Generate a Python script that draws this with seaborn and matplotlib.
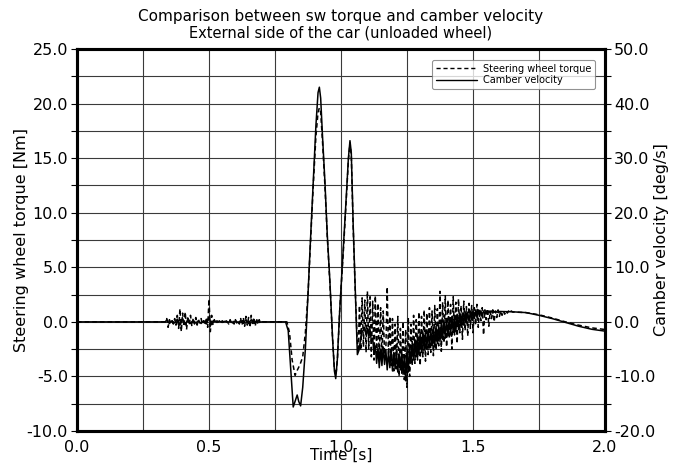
import numpy as np
import pandas as pd
import matplotlib
matplotlib.use("Agg")
import matplotlib.pyplot as plt
import seaborn as sns
from matplotlib.ticker import MultipleLocator, FormatStrFormatter
from matplotlib.lines import Line2D

# ---------------- data ----------------
# Steering wheel torque [Nm]
torque_quiet_t = [0.0, 0.335]
torque_quiet = [0.0, 0.0]

torque_noise1_start, torque_noise1_step = 0.34, 0.005
torque_noise1 = [0.3, -0.5, 0.2, -0.1, 0.1, -0.2, 0.3, -0.3, 0.6, -0.6,
                 1.2, -0.9, 0.8, -0.4, 0.9, -0.7, 0.5, -0.3, 0.6, -0.4,
                 0.3, -0.2, 0.4, -0.3, 0.2, -0.1, 0.3, -0.2, 0.1, -0.3,
                 0.4, -0.5, 2.1, -0.9, 0.6, -0.3, 0.2, -0.1, 0.1, 0.0,
                 0.1, -0.1, 0.1, 0.0, -0.1, 0.1, 0.0, -0.2, 0.2, -0.1,
                 0.1, -0.2, 0.2, -0.1, 0.1, -0.2, 0.3, -0.3, 0.4, -0.4,
                 0.5, -0.3, 0.4, -0.5, 0.6, -0.3, 0.4, -0.4, 0.3, -0.2,
                 0.2, -0.1, 0.0]

torque_man_t = [0.705, 0.795, 0.805, 0.815, 0.826, 0.835, 0.845, 0.855, 0.865,
                0.875, 0.883, 0.895, 0.905, 0.913, 0.918, 0.923, 0.930, 0.939,
                0.948, 0.958, 0.968, 0.975, 0.981, 0.987, 0.995, 1.009, 1.020,
                1.028, 1.034, 1.039, 1.046, 1.053, 1.060, 1.065]
torque_man = [0.0, 0.0, -1.0, -3.5, -4.9, -4.4, -3.9, -3.2, -1.0,
              2.5, 6.5, 12.5, 17.0, 19.2, 19.6, 19.2, 16.5, 12.5,
              7.8, 3.5, -1.5, -4.3, -4.9, -3.2, 1.0, 6.5, 11.2,
              14.8, 16.4, 15.2, 8.8, 3.5, -1.0, -2.8]

torque_noise2_start, torque_noise2_step = 1.07, 0.005
torque_noise2 = [1.5, -2.6, 2.2, -2.3, 2.0, -2.8, 2.8, -2.5, 2.3, -3.2,
                 1.9, -3.5, 2.4, -2.9, 1.7, -3.6, 1.3, -3.3, 1.0, -3.0,
                 -2.4, 3.2, -3.4, 0.5, -4.0, 0.3, -4.5, -0.2, -4.3, 0.5,
                 -5.0, -0.6, -4.7, 0.0, -5.3, -0.7, -6.0, 0.4, -5.0, -0.2,
                 -4.0, 0.6, -3.8, 0.2, -3.5, 0.9, -4.0, 0.5, -3.2, 1.1,
                 -3.6, 0.8, -3.0, 1.3, -2.8, 1.0, -3.1, 1.5, -2.6, 1.2,
                 -2.2, 2.8, -2.7, 1.8, -1.9, 2.4, -2.3, 2.0, -1.5, 1.6,
                 -2.5, 2.3, -1.2, 1.8, -2.0, 2.1, -1.0, 1.5, -1.6, 1.9,
                 -0.8, 1.4, -1.3, 1.7, -0.6, 1.5, -1.0, 1.3, -0.3, 1.6,
                 -0.5, 1.2, 0.1, 1.3, -1.2, 1.1, 0.2, 1.2, -0.4, 1.0,
                 0.3, 1.1, 0.0, 1.0, 0.4, 1.1, 0.5, 1.0, 0.6, 1.0,
                 0.7, 1.0, 0.8, 1.0, 0.85, 1.0, 0.9]

torque_tail_t = [1.70, 1.75, 1.80, 1.85, 1.90, 1.95, 2.00]
torque_tail = [0.85, 0.65, 0.35, 0.0, -0.3, -0.55, -0.7]

# Camber velocity [deg/s]
camber_quiet_t = [0.0, 0.335]
camber_quiet = [0.0, 0.0]

camber_noise1_start, camber_noise1_step = 0.34, 0.01
camber_noise1 = [0.4, -0.3, 0.2, -0.2, 0.5, -0.6, 0.6, -0.5, 0.4, -0.3,
                 0.3, -0.2, 0.2, -0.3, 0.2, -0.4, 0.8, -0.5, 0.2, -0.1,
                 0.1, -0.1, 0.1, -0.1, 0.1, -0.2, 0.2, -0.1, 0.2, -0.3,
                 0.4, -0.3, 0.4, -0.3, 0.2, -0.1, 0.0]

camber_man_t = [0.71, 0.79, 0.80, 0.81, 0.819, 0.827, 0.834, 0.840, 0.847,
                0.855, 0.865, 0.875, 0.883, 0.895, 0.905, 0.913, 0.918, 0.923,
                0.930, 0.939, 0.948, 0.958, 0.968, 0.975, 0.980, 0.986, 0.995,
                1.009, 1.020, 1.028, 1.034, 1.039, 1.046, 1.053, 1.058, 1.062,
                1.068, 1.078, 1.085]
camber_man = [0.0, 0.0, -1.6, -9.0, -15.6, -14.4, -13.4, -14.6, -15.4,
              -12.0, -5.0, 5.0, 13.6, 26.0, 36.0, 42.0, 43.0, 41.0,
              34.0, 25.8, 16.0, 7.4, -3.0, -9.0, -10.4, -7.0, 2.0,
              13.6, 23.0, 30.0, 33.2, 31.0, 18.0, 7.4, 0.0, -6.0,
              -5.2, -2.0, -1.4]

camber_noise2_start, camber_noise2_step = 1.09, 0.005
camber_noise2 = [-1.0, -2.4, -1.2, -2.6, -1.4, -3.6, -3.0, -5.6, -4.4, -7.6,
                 -4.8, -8.4, -5.0, -8.0, -4.6, -7.8, -5.2, -8.8, -5.4, -8.4,
                 -5.0, -9.0, -5.6, -8.6, -5.2, -9.2, -5.8, -8.8, -5.4, -9.6,
                 -6.0, -10.8, -5.2, -9.2, -4.4, -7.6, -3.6, -7.0, -3.2, -6.4,
                 -2.4, -6.0, -2.0, -5.6, -1.8, -5.2, -1.6, -5.0, -1.4, -4.8,
                 -1.2, -4.4, -1.0, -4.6, -0.8, -4.0, -0.6, -3.6, 0.0, -3.2,
                 0.4, -3.0, 0.6, -2.6, 0.8, -2.4, 1.0, -2.0, 1.2, -1.8,
                 1.4, -1.4, 1.6, -1.0, 1.6, -0.6, 1.8, -0.2, 1.8, 0.0,
                 2.0, 0.4, 2.0, 0.6, 2.2, 0.8, 2.2, 1.0, 2.0, 1.2,
                 2.0, 1.4, 2.0, 1.4, 2.0, 1.6, 2.0, 1.6, 1.9, 1.7,
                 1.9, 1.7, 1.9]

camber_tail_t = [1.65, 1.70, 1.75, 1.80, 1.85, 1.90, 1.95, 2.00]
camber_tail = [1.84, 1.7, 1.2, 0.6, -0.1, -0.8, -1.36, -1.7]

title_line1 = "Comparison between sw torque and camber velocity"
title_line2 = "External side of the car (unloaded wheel)"
x_label = "Time [s]"
y_left_label = "Steering wheel torque [Nm]"
y_right_label = "Camber velocity [deg/s]"
legend_labels = ["Steering wheel torque", "Camber velocity"]

# ---------------- assemble ----------------
def grid_t(start, step, vals):
    return start + step * np.arange(len(vals))

torque_t = np.concatenate([torque_quiet_t,
                           grid_t(torque_noise1_start, torque_noise1_step, torque_noise1),
                           torque_man_t,
                           grid_t(torque_noise2_start, torque_noise2_step, torque_noise2),
                           torque_tail_t])
torque_v = np.concatenate([torque_quiet, torque_noise1, torque_man, torque_noise2, torque_tail])

camber_t = np.concatenate([camber_quiet_t,
                           grid_t(camber_noise1_start, camber_noise1_step, camber_noise1),
                           camber_man_t,
                           grid_t(camber_noise2_start, camber_noise2_step, camber_noise2),
                           camber_tail_t])
camber_v = np.concatenate([camber_quiet, camber_noise1, camber_man, camber_noise2, camber_tail])

df_torque = pd.DataFrame({"t": torque_t, "v": torque_v})
df_camber = pd.DataFrame({"t": camber_t, "v": camber_v})

# ---------------- plot ----------------
sns.set_style("white")
plt.rcParams["font.family"] = ["DejaVu Sans"]
plt.rcParams["text.color"] = "black"
plt.rcParams["axes.labelcolor"] = "black"
plt.rcParams["xtick.color"] = "black"
plt.rcParams["ytick.color"] = "black"

W, H = 682, 466
fig = plt.figure(figsize=(W / 100, H / 100), dpi=100)
L, R, T, B = 77, 605, 49, 431
ax = fig.add_axes([L / W, 1 - B / H, (R - L) / W, (B - T) / H])
ax2 = ax.twinx()

sns.lineplot(data=df_torque, x="t", y="v", ax=ax, color="black", linewidth=1.1,
             linestyle=(0, (3, 2)), sort=False, estimator=None, legend=False)
sns.lineplot(data=df_camber, x="t", y="v", ax=ax2, color="black", linewidth=1.1,
             sort=False, estimator=None, legend=False)

ax.set_xlim(0, 2.0)
ax.set_ylim(-10, 25)
ax2.set_ylim(-20, 50)

ax.xaxis.set_major_locator(MultipleLocator(0.5))
ax.xaxis.set_minor_locator(MultipleLocator(0.25))
ax.yaxis.set_major_locator(MultipleLocator(5))
ax.yaxis.set_minor_locator(MultipleLocator(2.5))
ax2.yaxis.set_major_locator(MultipleLocator(10))
ax2.yaxis.set_minor_locator(MultipleLocator(5))
ax.xaxis.set_major_formatter(FormatStrFormatter("%.1f"))
ax.yaxis.set_major_formatter(FormatStrFormatter("%.1f"))
ax2.yaxis.set_major_formatter(FormatStrFormatter("%.1f"))

ax.grid(True, which="both", color="#3a3a3a", linewidth=0.8)
ax2.grid(False)
ax.set_axisbelow(True)

for a in (ax, ax2):
    for s in a.spines.values():
        s.set_linewidth(2.2)
        s.set_color("black")
    a.tick_params(which="both", direction="out", length=4, width=0.8,
                  color="black", labelcolor="black", labelsize=11.5, pad=2.5)

ax.set_xlabel(x_label, fontsize=11, color="black")
ax.xaxis.set_label_coords(0.5, -0.045)
ax.set_ylabel(y_left_label, fontsize=11.5, color="black")
ax.yaxis.set_label_coords(-0.09, 0.5)
ax2.set_ylabel(y_right_label, fontsize=11.5, color="black")
ax2.yaxis.set_label_coords(1.093, 0.5)

fig.text(341 / W, 1 - 17 / H, title_line1, ha="center", va="center",
         fontsize=11, color="black")
fig.text(341 / W, 1 - 33 / H, title_line2, ha="center", va="center",
         fontsize=10.5, color="black")

handles = [Line2D([], [], color="black", linewidth=1.0, linestyle=(0, (3, 2))),
           Line2D([], [], color="black", linewidth=1.0)]
leg = ax2.legend(handles, legend_labels, loc="upper right",
                 bbox_to_anchor=((595 - L) / (R - L), 1 - (60 - T) / (B - T)),
                 borderaxespad=0, fontsize=7, frameon=True, fancybox=True,
                 handlelength=4.2, handletextpad=0.6, labelspacing=0.15,
                 borderpad=0.4)
leg.get_frame().set_edgecolor("#777777")
leg.get_frame().set_linewidth(0.8)
for txt in leg.get_texts():
    txt.set_color("black")

fig.savefig("out.png", dpi=100)
